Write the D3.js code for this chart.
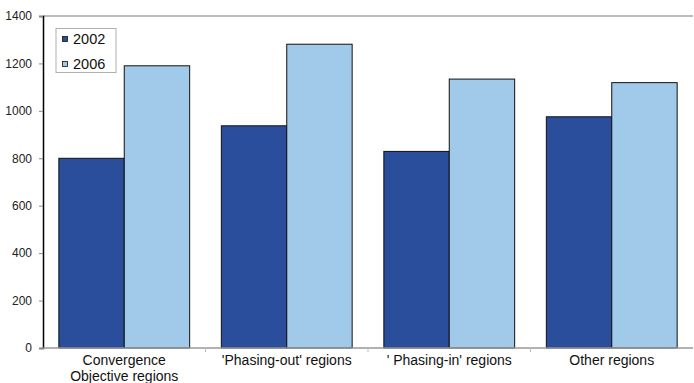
<!DOCTYPE html>
<html><head><meta charset="utf-8">
<script src="https://cdn.jsdelivr.net/npm/d3@7/dist/d3.min.js"></script>
<style>body{margin:0;background:#fff}svg{display:block}text{font-family:"Liberation Sans",Arial,sans-serif}</style>
</head><body><svg id="c" width="694" height="383"></svg>
<script>
const categories = ["Convergence\nObjective regions", "'Phasing-out' regions", "' Phasing-in' regions", "Other regions"];
const years = ["2002", "2006"];
const values2002 = [800, 937, 829, 975];
const values2006 = [1190, 1281, 1134, 1119];
const yTicks = [0, 200, 400, 600, 800, 1000, 1200, 1400];
const colors = ["#2a4d9c", "#a0c9ea"];

const svg = d3.select("#c");
const m = {l: 43, r: 1, t: 16, b: 35};
const W = 694, H = 383;
const x0 = d3.scaleBand().domain(categories).range([m.l, W - m.r]).paddingInner(0.195).paddingOuter(0.0975);
const x1 = d3.scaleBand().domain(years).range([0, x0.bandwidth()]);
const y = d3.scaleLinear().domain([0, 1400]).range([H - m.b, m.t]);
const series = [values2002, values2006];

// top border
svg.append("line").attr("x1", m.l).attr("x2", W - m.r).attr("y1", y(1400)).attr("y2", y(1400))
  .attr("stroke", "#a6a6a6").attr("stroke-width", 1.5);

// bars
const g = svg.append("g");
categories.forEach((c, i) => {
  years.forEach((yr, j) => {
    const v = series[j][i];
    g.append("rect")
      .attr("x", x0(c) + x1(yr)).attr("y", y(v))
      .attr("width", x1.bandwidth()).attr("height", y(0) - y(v))
      .attr("fill", colors[j]).attr("stroke", "#111").attr("stroke-width", 1);
  });
});

// y axis
const ya = d3.axisLeft(y).tickValues(yTicks).tickSize(4).tickPadding(7).tickFormat(d3.format("d"));
const yg = svg.append("g").attr("transform", `translate(${m.l},0)`).call(ya);
yg.select(".domain").attr("stroke", "#000").attr("stroke-width", 1.5);
yg.selectAll(".tick line").attr("stroke", "#888");
yg.selectAll("text").attr("font-size", 12).attr("fill", "#222");

// x axis
const bottom = y(0);
svg.append("line").attr("x1", m.l).attr("x2", W - m.r).attr("y1", bottom).attr("y2", bottom)
  .attr("stroke", "#999").attr("stroke-width", 1.5);
const step = x0.step();
for (let k = 1; k < categories.length; k++) {
  const xx = x0(categories[k]) - x0.paddingInner() * step / 2;
  svg.append("line").attr("x1", xx).attr("x2", xx).attr("y1", bottom).attr("y2", bottom + 4).attr("stroke", "#bbb");
}
categories.forEach(c => {
  const lines = c.split("\n");
  const t = svg.append("text").attr("x", x0(c) + x0.bandwidth() / 2).attr("y", bottom + 17)
    .attr("text-anchor", "middle").attr("font-size", 14).attr("fill", "#111");
  lines.forEach((ln, i) => t.append("tspan").attr("x", x0(c) + x0.bandwidth() / 2).attr("dy", i ? 16 : 0).text(ln));
});

// legend
const lg = svg.append("g");
lg.append("rect").attr("x", 56).attr("y", 28.5).attr("width", 60).attr("height", 44)
  .attr("fill", "#fff").attr("stroke", "#b0b0b0").attr("stroke-width", 1);
years.forEach((yr, j) => {
  const cy = 39 + j * 25;
  lg.append("rect").attr("x", 62.5).attr("y", cy - 2.5).attr("width", 5).attr("height", 5)
    .attr("fill", colors[j]).attr("stroke", "#111").attr("stroke-width", 0.8);
  lg.append("text").attr("x", 73).attr("y", cy + 5).attr("font-size", 14.5).attr("fill", "#111").text(yr);
});
</script></body></html>
